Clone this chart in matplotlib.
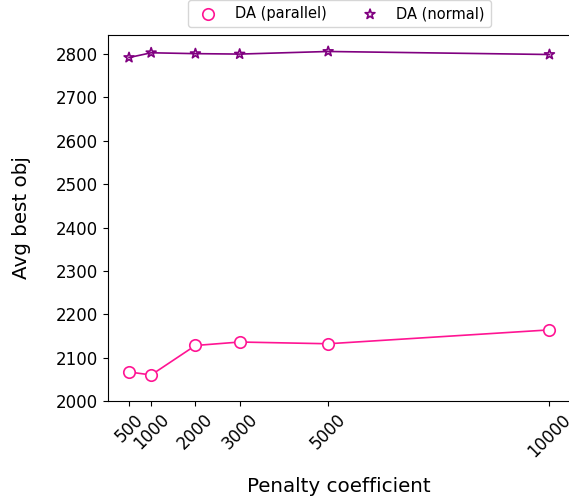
import matplotlib
matplotlib.use("Agg")
import matplotlib.pyplot as plt

penalty = [500, 1000, 2000, 3000, 5000, 10000]
da_parallel = [2067, 2060, 2128, 2136, 2132, 2164]
da_normal = [2792, 2803, 2801, 2800, 2806, 2799]

pink = "#ff1493"
purple = "#800080"

fig = plt.figure(figsize=(5.69, 5.03), dpi=100)
ax = fig.add_axes([108 / 569, 1 - 401 / 503, 462.5 / 569, 366 / 503])

ax.plot(penalty, da_parallel, color=pink, lw=1.2, zorder=2)
ax.scatter(penalty, da_parallel, s=68, facecolors="white", edgecolors=pink,
           linewidths=1.2, marker="o", label="DA (parallel)", zorder=3)
ax.plot(penalty, da_normal, color=purple, lw=1.2, zorder=2)
ax.scatter(penalty, da_normal, s=55, facecolors="none", edgecolors=purple,
           linewidths=1.2, marker="*", label="DA (normal)", zorder=3)

ax.set_ylim(2000, 2844)
ax.set_xticks(penalty)
ax.set_xticklabels([str(p) for p in penalty], rotation=45, fontsize=12)
ax.tick_params(axis="y", labelsize=12)
ax.set_xlabel("Penalty coefficient", fontsize=14.3, labelpad=12)
ax.set_ylabel("Avg best obj", fontsize=14.3, labelpad=18)

ax.legend(loc="lower center", bbox_to_anchor=(0.5, 1.022), ncol=2,
          fontsize=10.5, frameon=True, borderaxespad=0)

fig.savefig("out.png", dpi=100)
